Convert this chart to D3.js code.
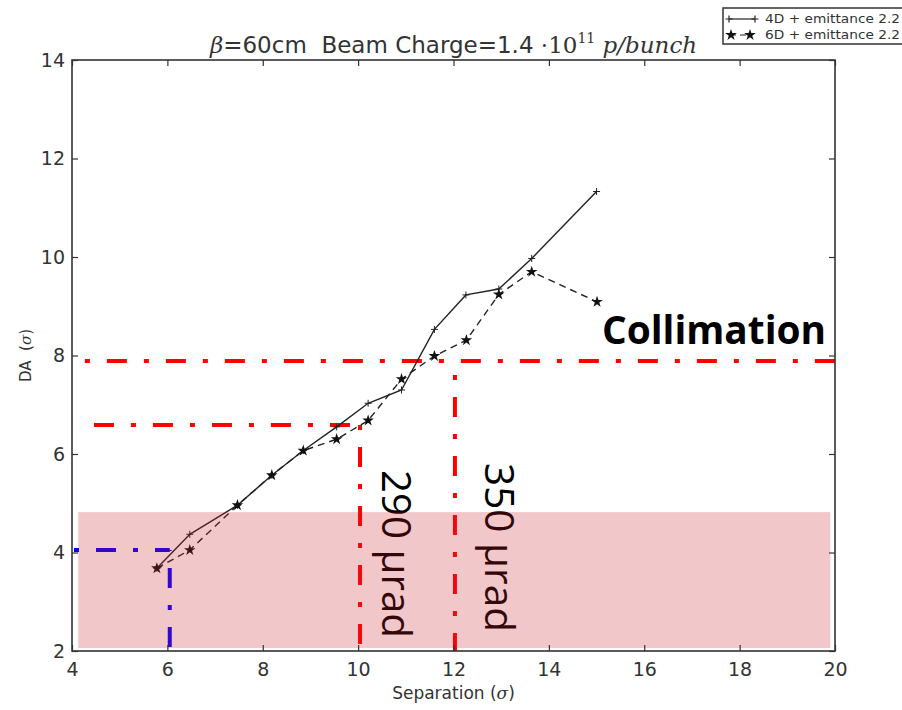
<!DOCTYPE html>
<html>
<head>
<meta charset="utf-8">
<script src="https://cdn.jsdelivr.net/npm/d3@7"></script>
<style>
    body { margin: 0; background: #fff; }
    svg { display: block; }
    .tick text { font-family: 'DejaVu Sans', sans-serif; fill: #333; }
</style>
</head>
<body>
<script>
/**
 * Data.
 */
const separation4D = [5.78, 6.47, 7.47, 8.19, 8.85, 9.55, 10.21, 10.91, 11.6, 12.26, 12.95, 13.64, 15.0];
const da4D = [3.68, 4.37, 4.96, 5.57, 6.07, 6.55, 7.03, 7.3, 8.53, 9.23, 9.35, 9.97, 11.33];
const separation6D = [5.78, 6.47, 7.47, 8.19, 8.85, 9.55, 10.21, 10.91, 11.6, 12.27, 12.95, 13.64, 15.01];
const da6D = [3.68, 4.05, 4.96, 5.57, 6.07, 6.3, 6.68, 7.52, 7.99, 8.31, 9.24, 9.7, 9.09];
const seriesLabels = ['4D + emittance 2.2', '6D + emittance 2.2'];
const xTicks = [4, 6, 8, 10, 12, 14, 16, 18, 20];
const yTicks = [2, 4, 6, 8, 10, 12, 14];

// Guide lines, [x1, y1, x2, y2] in axis units
const redGuides = [
    [4.27, 7.89, 20, 7.89],
    [12.03, 7.89, 12.03, 2],
    [4.46, 6.59, 10.04, 6.59],
    [10.04, 6.59, 10.04, 2]
];
const blueGuides = [
    [4.0, 4.05, 6.05, 4.05],
    [6.05, 4.05, 6.05, 2]
];
// Shaded band: [xMin, xMax, yMin, yMax]
const band = [4.13, 19.9, 2.06, 4.82];
const annotations = ['Collimation', '290 μrad', '350 μrad'];

/**
 * Visual configs.
 */
const visWidth = 902, visHeight = 710,
    plot = { left: 72, right: 835, top: 60, bottom: 651 },
    dashDot = '20,17,5,17';

const svg = d3.select('body').append('svg')
    .attr('width', visWidth)
    .attr('height', visHeight);

const xScale = d3.scaleLinear().domain([4, 20]).range([plot.left, plot.right]),
    yScale = d3.scaleLinear().domain([2, 14]).range([plot.bottom, plot.top]);

const line = d3.line().x(d => xScale(d[0])).y(d => yScale(d[1]));

const points4D = separation4D.map((s, i) => [s, da4D[i]]),
    points6D = separation6D.map((s, i) => [s, da6D[i]]);

// Guide lines
const guideOffsets = [37, 23, 0, 37, 35, 41];
const guides = redGuides.map(g => ({ g, color: '#ff0000' }))
    .concat(blueGuides.map(g => ({ g, color: '#0000ff' })));
svg.append('g').attr('class', 'guides')
    .selectAll('line').data(guides).join('line')
    .attr('x1', d => xScale(d.g[0])).attr('y1', d => yScale(d.g[1]))
    .attr('x2', d => xScale(d.g[2])).attr('y2', d => yScale(d.g[3]))
    .attr('stroke', d => d.color)
    .attr('stroke-width', 4)
    .attr('stroke-dasharray', dashDot)
    .attr('stroke-dashoffset', (d, i) => guideOffsets[i]);

// Series
const seriesG = svg.append('g').attr('class', 'series');
seriesG.append('path')
    .attr('d', line(points4D))
    .attr('fill', 'none').attr('stroke', '#222').attr('stroke-width', 1.4);
seriesG.append('path')
    .attr('d', line(points6D))
    .attr('fill', 'none').attr('stroke', '#222').attr('stroke-width', 1.4)
    .attr('stroke-dasharray', '7,5');

function plusPath(x, y, r) {
    return 'M' + (x - r) + ',' + y + 'H' + (x + r) + 'M' + x + ',' + (y - r) + 'V' + (y + r);
}
seriesG.selectAll('.plus').data(points4D).join('path')
    .attr('class', 'plus')
    .attr('d', d => plusPath(xScale(d[0]), yScale(d[1]), 3.5))
    .attr('stroke', '#222').attr('stroke-width', 1);

const star = d3.symbol().type(d3.symbolStar).size(42);
seriesG.selectAll('.star').data(points6D).join('path')
    .attr('class', 'star')
    .attr('transform', d => 'translate(' + xScale(d[0]) + ',' + yScale(d[1]) + ')')
    .attr('d', star)
    .attr('fill', '#111');

// Annotation texts
svg.append('text')
    .attr('x', 602).attr('y', 344)
    .attr('font-family', "'Open Sans', sans-serif")
    .attr('font-weight', 'bold')
    .attr('font-size', 39)
    .attr('textLength', 224).attr('lengthAdjust', 'spacingAndGlyphs')
    .attr('fill', '#000')
    .text(annotations[0]);

[[382, 470, 168], [485, 463, 169]].forEach((p, i) => {
    svg.append('text')
        .attr('transform', 'translate(' + p[0] + ',' + p[1] + ') rotate(90)')
        .attr('font-family', "'Open Sans', sans-serif")
        .attr('font-size', 40)
        .attr('textLength', p[2]).attr('lengthAdjust', 'spacingAndGlyphs')
        .attr('fill', '#000')
        .text(annotations[i + 1]);
});

// Shaded band drawn over everything inside the plot
svg.append('rect')
    .attr('x', xScale(band[0]))
    .attr('y', yScale(band[3]))
    .attr('width', xScale(band[1]) - xScale(band[0]))
    .attr('height', yScale(band[2]) - yScale(band[3]))
    .attr('fill', 'rgb(205,30,40)')
    .attr('fill-opacity', 0.25);

// Axes, ticks pointing inwards on all sides
const axisColor = '#333';
function styleAxis(g) {
    g.select('.domain').remove();
    g.selectAll('.tick line').attr('stroke', axisColor).attr('stroke-width', 1.2);
}
svg.append('g')
    .attr('transform', 'translate(0,' + plot.bottom + ')')
    .call(d3.axisBottom(xScale).tickValues(xTicks).tickSize(-6).tickPadding(8))
    .call(styleAxis)
    .selectAll('text').attr('font-size', 19).attr('dy', '0.9em');
svg.append('g')
    .attr('transform', 'translate(0,' + plot.top + ')')
    .call(d3.axisTop(xScale).tickValues(xTicks).tickSize(-6).tickFormat(''))
    .call(styleAxis);
svg.append('g')
    .attr('transform', 'translate(' + plot.left + ',0)')
    .call(d3.axisLeft(yScale).tickValues(yTicks).tickSize(-6).tickPadding(7))
    .call(styleAxis)
    .selectAll('text').attr('font-size', 19);
svg.append('g')
    .attr('transform', 'translate(' + plot.right + ',0)')
    .call(d3.axisRight(yScale).tickValues(yTicks).tickSize(-6).tickFormat(''))
    .call(styleAxis);

svg.append('rect')
    .attr('x', plot.left).attr('y', plot.top)
    .attr('width', plot.right - plot.left).attr('height', plot.bottom - plot.top)
    .attr('fill', 'none').attr('stroke', axisColor).attr('stroke-width', 1.6);

// Axis labels
svg.append('text')
    .attr('x', (plot.left + plot.right) / 2).attr('y', 699)
    .attr('text-anchor', 'middle')
    .attr('font-family', "'DejaVu Sans', sans-serif")
    .attr('font-size', 17).attr('fill', '#333')
    .html('Separation (<tspan font-family="DejaVu Serif" font-style="italic">σ</tspan>)');
svg.append('text')
    .attr('transform', 'translate(31,' + (plot.top + plot.bottom) / 2 + ') rotate(-90)')
    .attr('text-anchor', 'middle')
    .attr('font-family', "'DejaVu Sans', sans-serif")
    .attr('font-size', 15).attr('fill', '#333')
    .html('DA\u00a0 (<tspan font-family="DejaVu Serif" font-style="italic">σ</tspan>)');

// Title
svg.append('text')
    .attr('x', (plot.left + plot.right) / 2).attr('y', 53)
    .attr('text-anchor', 'middle')
    .attr('font-family', "'DejaVu Sans', sans-serif")
    .attr('font-size', 23).attr('fill', '#333')
    .html('<tspan font-family="DejaVu Serif" font-style="italic">β</tspan>=60cm\u00a0 Beam Charge=1.4' +
        '<tspan font-family="DejaVu Serif"> ·10</tspan>' +
        '<tspan font-family="DejaVu Serif" font-size="14" dy="-10">11</tspan>' +
        '<tspan font-family="DejaVu Serif" font-style="italic" dy="10"> p/bunch</tspan>');

// Legend
const legend = svg.append('g').attr('class', 'legend');
legend.append('rect')
    .attr('x', 723).attr('y', 8).attr('width', 200).attr('height', 36)
    .attr('fill', '#fff').attr('stroke', '#333').attr('stroke-width', 1.5);
legend.append('line')
    .attr('x1', 729).attr('x2', 755).attr('y1', 19).attr('y2', 19)
    .attr('stroke', '#222').attr('stroke-width', 1.2);
[729, 755].forEach(x => legend.append('path')
    .attr('d', plusPath(x, 19, 3.5)).attr('stroke', '#222').attr('stroke-width', 1.2));
legend.append('line')
    .attr('x1', 730).attr('x2', 751).attr('y1', 35).attr('y2', 35)
    .attr('stroke', '#222').attr('stroke-width', 1.2).attr('stroke-dasharray', '6,4');
[731, 750].forEach(x => legend.append('path')
    .attr('transform', 'translate(' + x + ',35)')
    .attr('d', star).attr('fill', '#111'));
seriesLabels.forEach((label, i) => legend.append('text')
    .attr('x', 765).attr('y', 23 + i * 16)
    .attr('font-family', "'DejaVu Sans', sans-serif")
    .attr('font-size', 11.5).attr('fill', '#333')
    .attr('textLength', 135).attr('lengthAdjust', 'spacingAndGlyphs')
    .text(label));
</script>
</body>
</html>
